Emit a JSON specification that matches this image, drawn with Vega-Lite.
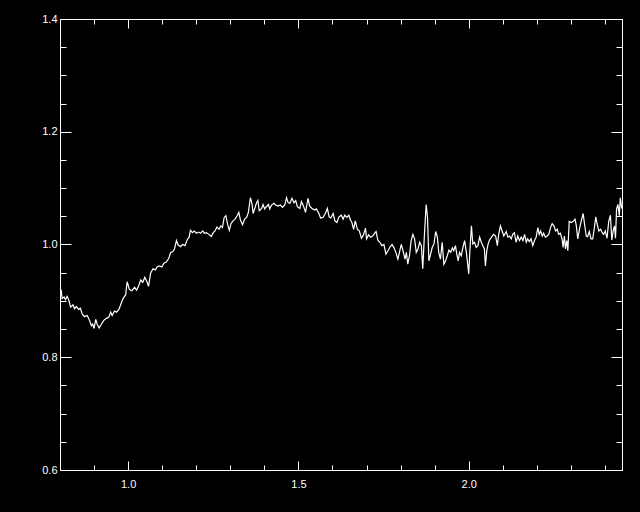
{
"$schema":"https://vega.github.io/schema/vega-lite/v6.json",
"width":562,"height":451,
"autosize":{"type":"none"},
"padding":{"left":60,"top":19,"right":18,"bottom":42},
"background":"black",
"config":{"view":{"stroke":null},"axis":{"grid":false,"title":null,"domainColor":"white","domainWidth":1,"tickColor":"white","tickWidth":1,"labelColor":"white","labelFont":"Liberation Sans","labelFontSize":11}},
"data":{"values":[
{"x":0.800,"y":0.915},{"x":0.804,"y":0.918},{"x":0.806,"y":0.904},{"x":0.812,"y":0.907},{"x":0.816,"y":0.902},{"x":0.821,"y":0.908},{"x":0.826,"y":0.901},{"x":0.831,"y":0.889},{"x":0.838,"y":0.893},{"x":0.843,"y":0.886},{"x":0.848,"y":0.890},{"x":0.855,"y":0.885},{"x":0.860,"y":0.887},{"x":0.865,"y":0.877},{"x":0.872,"y":0.872},{"x":0.880,"y":0.874},{"x":0.887,"y":0.865},{"x":0.892,"y":0.856},{"x":0.896,"y":0.859},{"x":0.900,"y":0.851},{"x":0.905,"y":0.867},{"x":0.909,"y":0.859},{"x":0.915,"y":0.852},{"x":0.921,"y":0.858},{"x":0.928,"y":0.865},{"x":0.936,"y":0.869},{"x":0.943,"y":0.871},{"x":0.949,"y":0.880},{"x":0.953,"y":0.874},{"x":0.960,"y":0.882},{"x":0.966,"y":0.880},{"x":0.973,"y":0.885},{"x":0.978,"y":0.893},{"x":0.985,"y":0.904},{"x":0.993,"y":0.911},{"x":0.997,"y":0.934},{"x":1.004,"y":0.920},{"x":1.011,"y":0.918},{"x":1.019,"y":0.924},{"x":1.025,"y":0.919},{"x":1.031,"y":0.927},{"x":1.037,"y":0.937},{"x":1.043,"y":0.933},{"x":1.049,"y":0.942},{"x":1.056,"y":0.933},{"x":1.060,"y":0.926},{"x":1.066,"y":0.949},{"x":1.073,"y":0.957},{"x":1.080,"y":0.955},{"x":1.085,"y":0.960},{"x":1.092,"y":0.962},{"x":1.099,"y":0.960},{"x":1.105,"y":0.967},{"x":1.112,"y":0.969},{"x":1.119,"y":0.975},{"x":1.125,"y":0.986},{"x":1.131,"y":0.987},{"x":1.136,"y":0.992},{"x":1.142,"y":1.007},{"x":1.147,"y":0.999},{"x":1.154,"y":0.996},{"x":1.160,"y":1.000},{"x":1.167,"y":0.998},{"x":1.173,"y":1.008},{"x":1.179,"y":1.013},{"x":1.183,"y":1.025},{"x":1.189,"y":1.021},{"x":1.194,"y":1.024},{"x":1.201,"y":1.020},{"x":1.207,"y":1.022},{"x":1.213,"y":1.020},{"x":1.219,"y":1.024},{"x":1.224,"y":1.020},{"x":1.230,"y":1.021},{"x":1.237,"y":1.018},{"x":1.244,"y":1.014},{"x":1.250,"y":1.021},{"x":1.255,"y":1.024},{"x":1.261,"y":1.031},{"x":1.267,"y":1.027},{"x":1.272,"y":1.033},{"x":1.277,"y":1.030},{"x":1.282,"y":1.048},{"x":1.287,"y":1.051},{"x":1.292,"y":1.036},{"x":1.297,"y":1.025},{"x":1.302,"y":1.037},{"x":1.308,"y":1.042},{"x":1.314,"y":1.045},{"x":1.320,"y":1.051},{"x":1.325,"y":1.057},{"x":1.330,"y":1.043},{"x":1.336,"y":1.035},{"x":1.342,"y":1.045},{"x":1.348,"y":1.048},{"x":1.353,"y":1.057},{"x":1.359,"y":1.083},{"x":1.364,"y":1.071},{"x":1.367,"y":1.055},{"x":1.373,"y":1.066},{"x":1.377,"y":1.074},{"x":1.381,"y":1.078},{"x":1.385,"y":1.060},{"x":1.392,"y":1.064},{"x":1.396,"y":1.071},{"x":1.401,"y":1.063},{"x":1.406,"y":1.067},{"x":1.412,"y":1.071},{"x":1.416,"y":1.063},{"x":1.421,"y":1.070},{"x":1.428,"y":1.073},{"x":1.433,"y":1.070},{"x":1.440,"y":1.068},{"x":1.447,"y":1.070},{"x":1.453,"y":1.066},{"x":1.460,"y":1.070},{"x":1.465,"y":1.083},{"x":1.470,"y":1.074},{"x":1.475,"y":1.073},{"x":1.481,"y":1.082},{"x":1.487,"y":1.074},{"x":1.492,"y":1.078},{"x":1.497,"y":1.067},{"x":1.504,"y":1.064},{"x":1.509,"y":1.076},{"x":1.515,"y":1.068},{"x":1.521,"y":1.057},{"x":1.528,"y":1.082},{"x":1.533,"y":1.068},{"x":1.540,"y":1.064},{"x":1.548,"y":1.061},{"x":1.553,"y":1.063},{"x":1.560,"y":1.055},{"x":1.565,"y":1.047},{"x":1.572,"y":1.048},{"x":1.579,"y":1.055},{"x":1.585,"y":1.064},{"x":1.590,"y":1.049},{"x":1.595,"y":1.047},{"x":1.602,"y":1.055},{"x":1.607,"y":1.042},{"x":1.613,"y":1.039},{"x":1.619,"y":1.049},{"x":1.626,"y":1.052},{"x":1.631,"y":1.045},{"x":1.636,"y":1.052},{"x":1.642,"y":1.048},{"x":1.648,"y":1.052},{"x":1.653,"y":1.043},{"x":1.657,"y":1.039},{"x":1.662,"y":1.027},{"x":1.667,"y":1.042},{"x":1.673,"y":1.027},{"x":1.679,"y":1.024},{"x":1.685,"y":1.011},{"x":1.691,"y":1.017},{"x":1.697,"y":1.029},{"x":1.700,"y":1.010},{"x":1.706,"y":1.017},{"x":1.712,"y":1.013},{"x":1.718,"y":1.015},{"x":1.724,"y":1.020},{"x":1.728,"y":1.023},{"x":1.733,"y":1.008},{"x":1.739,"y":1.004},{"x":1.745,"y":0.998},{"x":1.751,"y":1.000},{"x":1.757,"y":0.983},{"x":1.763,"y":0.989},{"x":1.769,"y":0.996},{"x":1.775,"y":1.000},{"x":1.780,"y":0.995},{"x":1.786,"y":0.986},{"x":1.792,"y":0.974},{"x":1.798,"y":0.990},{"x":1.802,"y":1.000},{"x":1.807,"y":0.989},{"x":1.813,"y":0.974},{"x":1.817,"y":0.986},{"x":1.821,"y":0.965},{"x":1.826,"y":0.980},{"x":1.831,"y":1.007},{"x":1.836,"y":1.018},{"x":1.841,"y":1.010},{"x":1.846,"y":0.986},{"x":1.851,"y":0.992},{"x":1.856,"y":1.004},{"x":1.861,"y":0.998},{"x":1.865,"y":0.957},{"x":1.870,"y":1.018},{"x":1.875,"y":1.071},{"x":1.879,"y":1.048},{"x":1.883,"y":0.971},{"x":1.888,"y":0.983},{"x":1.893,"y":0.995},{"x":1.898,"y":1.001},{"x":1.903,"y":1.023},{"x":1.908,"y":1.013},{"x":1.912,"y":0.986},{"x":1.917,"y":0.974},{"x":1.922,"y":1.004},{"x":1.927,"y":0.965},{"x":1.932,"y":0.971},{"x":1.937,"y":0.980},{"x":1.942,"y":0.990},{"x":1.947,"y":0.986},{"x":1.952,"y":0.994},{"x":1.956,"y":0.989},{"x":1.961,"y":0.998},{"x":1.965,"y":0.983},{"x":1.969,"y":0.971},{"x":1.973,"y":0.986},{"x":1.978,"y":0.980},{"x":1.983,"y":0.995},{"x":1.988,"y":1.007},{"x":1.993,"y":0.986},{"x":1.997,"y":0.965},{"x":2.000,"y":0.948},{"x":2.004,"y":0.995},{"x":2.008,"y":1.033},{"x":2.012,"y":1.001},{"x":2.017,"y":1.004},{"x":2.022,"y":0.995},{"x":2.027,"y":0.998},{"x":2.032,"y":1.013},{"x":2.037,"y":1.004},{"x":2.041,"y":0.998},{"x":2.046,"y":0.992},{"x":2.049,"y":0.962},{"x":2.053,"y":0.989},{"x":2.057,"y":1.001},{"x":2.061,"y":1.008},{"x":2.067,"y":1.013},{"x":2.073,"y":1.018},{"x":2.079,"y":1.015},{"x":2.084,"y":0.998},{"x":2.088,"y":1.018},{"x":2.093,"y":1.033},{"x":2.098,"y":1.024},{"x":2.103,"y":1.015},{"x":2.110,"y":1.023},{"x":2.115,"y":1.013},{"x":2.120,"y":1.015},{"x":2.125,"y":1.010},{"x":2.129,"y":1.018},{"x":2.134,"y":1.021},{"x":2.139,"y":1.004},{"x":2.144,"y":1.015},{"x":2.149,"y":1.007},{"x":2.154,"y":1.013},{"x":2.159,"y":1.007},{"x":2.164,"y":1.018},{"x":2.169,"y":1.004},{"x":2.173,"y":1.010},{"x":2.178,"y":1.005},{"x":2.183,"y":1.010},{"x":2.188,"y":0.998},{"x":2.193,"y":1.007},{"x":2.198,"y":1.013},{"x":2.203,"y":1.030},{"x":2.207,"y":1.018},{"x":2.211,"y":1.024},{"x":2.216,"y":1.015},{"x":2.220,"y":1.020},{"x":2.225,"y":1.013},{"x":2.230,"y":1.015},{"x":2.235,"y":1.018},{"x":2.240,"y":1.030},{"x":2.245,"y":1.037},{"x":2.250,"y":1.033},{"x":2.255,"y":1.024},{"x":2.260,"y":1.027},{"x":2.264,"y":1.018},{"x":2.269,"y":1.020},{"x":2.274,"y":1.010},{"x":2.277,"y":0.995},{"x":2.281,"y":1.015},{"x":2.284,"y":0.992},{"x":2.288,"y":1.007},{"x":2.291,"y":0.989},{"x":2.295,"y":1.041},{"x":2.301,"y":1.039},{"x":2.307,"y":1.041},{"x":2.312,"y":1.045},{"x":2.316,"y":1.033},{"x":2.320,"y":1.010},{"x":2.325,"y":1.027},{"x":2.330,"y":1.041},{"x":2.336,"y":1.055},{"x":2.340,"y":1.036},{"x":2.345,"y":1.015},{"x":2.349,"y":1.014},{"x":2.354,"y":1.023},{"x":2.359,"y":1.010},{"x":2.364,"y":1.010},{"x":2.369,"y":1.030},{"x":2.373,"y":1.049},{"x":2.377,"y":1.036},{"x":2.382,"y":1.024},{"x":2.387,"y":1.027},{"x":2.392,"y":1.021},{"x":2.396,"y":1.018},{"x":2.401,"y":1.024},{"x":2.406,"y":1.011},{"x":2.411,"y":1.041},{"x":2.416,"y":1.052},{"x":2.420,"y":1.008},{"x":2.424,"y":1.024},{"x":2.428,"y":1.033},{"x":2.431,"y":1.011},{"x":2.434,"y":1.063},{"x":2.438,"y":1.071},{"x":2.442,"y":1.051},{"x":2.445,"y":1.083},{"x":2.449,"y":1.064}
]},
"resolve":{"axis":{"x":"independent","y":"independent"}},
"layer":[
{"mark":{"type":"line","color":"white","strokeWidth":1.2,"clip":true},
 "encoding":{
  "x":{"field":"x","type":"quantitative","scale":{"domain":[0.8,2.45],"nice":false,"zero":false},
       "axis":{"orient":"bottom","values":[1.0,1.5,2.0],"format":".1f","tickSize":-9,"labelPadding":17}},
  "y":{"field":"y","type":"quantitative","scale":{"domain":[0.6,1.4],"nice":false,"zero":false},
       "axis":{"orient":"left","values":[0.6,0.8,1.0,1.2,1.4],"format":".1f","tickSize":-11,"labelPadding":14}}}},
{"mark":{"type":"line","opacity":0},
 "encoding":{
  "x":{"field":"x","type":"quantitative","axis":{"orient":"bottom","values":[0.9,1.1,1.2,1.3,1.4,1.6,1.7,1.8,1.9,2.1,2.2,2.3,2.4],"labels":false,"tickSize":-5}},
  "y":{"field":"y","type":"quantitative","axis":{"orient":"left","values":[0.65,0.7,0.75,0.85,0.9,0.95,1.05,1.1,1.15,1.25,1.3,1.35],"labels":false,"tickSize":-6}}}},
{"mark":{"type":"line","opacity":0},
 "encoding":{
  "x":{"field":"x","type":"quantitative","axis":{"orient":"top","values":[1.0,1.5,2.0],"labels":false,"tickSize":-9}},
  "y":{"field":"y","type":"quantitative","axis":{"orient":"right","values":[0.6,0.8,1.0,1.2,1.4],"labels":false,"tickSize":-11}}}},
{"mark":{"type":"line","opacity":0},
 "encoding":{
  "x":{"field":"x","type":"quantitative","axis":{"orient":"top","values":[0.9,1.1,1.2,1.3,1.4,1.6,1.7,1.8,1.9,2.1,2.2,2.3,2.4],"labels":false,"tickSize":-5}},
  "y":{"field":"y","type":"quantitative","axis":{"orient":"right","values":[0.65,0.7,0.75,0.85,0.9,0.95,1.05,1.1,1.15,1.25,1.3,1.35],"labels":false,"tickSize":-6}}}}
]
}
